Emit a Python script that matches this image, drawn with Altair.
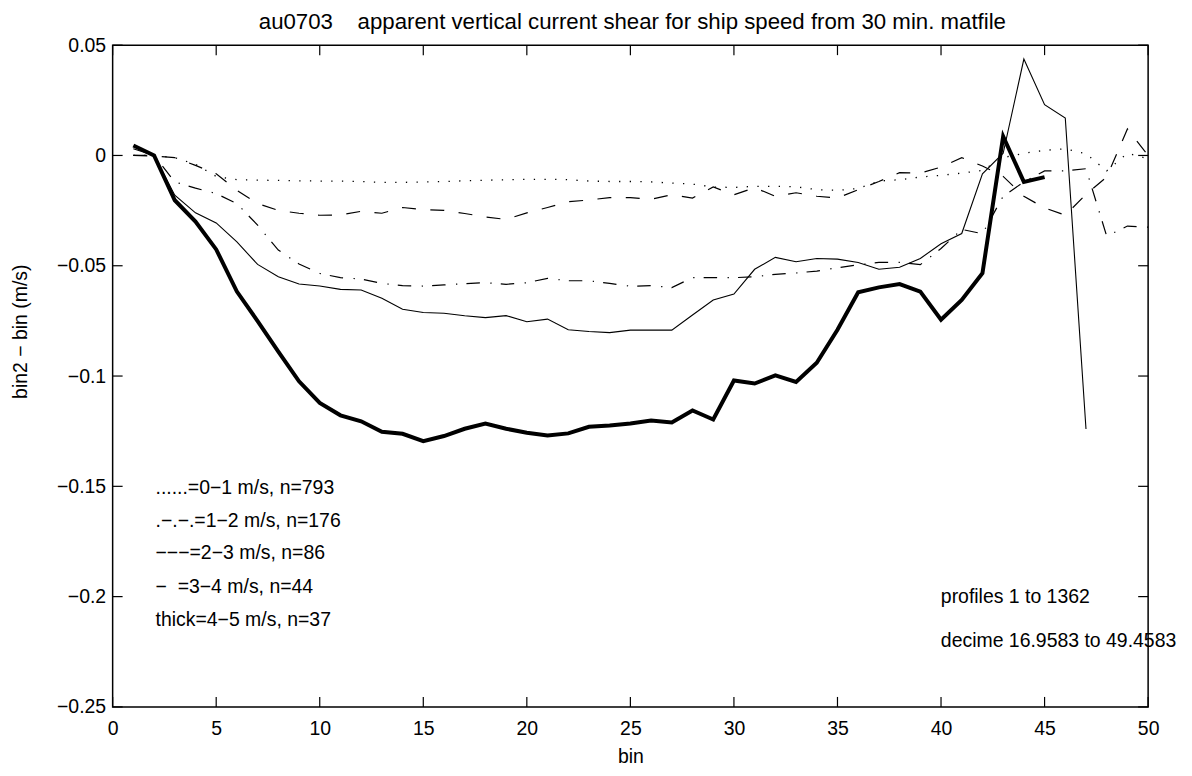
import altair as alt
import pandas as pd

# ---------------- data ----------------
x_ticks = [0, 5, 10, 15, 20, 25, 30, 35, 40, 45, 50]
y_ticks = [0.05, 0.0, -0.05, -0.1, -0.15, -0.2, -0.25]

bins_0_1 = list(range(1, 51))
shear_0_1 = [0.0, 0.0, -0.001, -0.004, -0.0095, -0.011, -0.0112, -0.0113, -0.0115, -0.0116,
             -0.0116, -0.0118, -0.0122, -0.0122, -0.012, -0.0118, -0.0115, -0.0112, -0.011, -0.0108,
             -0.0108, -0.011, -0.0116, -0.0118, -0.0118, -0.012, -0.0125, -0.013, -0.0143, -0.0145,
             -0.014, -0.014, -0.0142, -0.0155, -0.0158, -0.015, -0.0116, -0.011, -0.0098, -0.009,
             -0.008, -0.0068, -0.001, 0.001, 0.0023, 0.003, 0.0008, -0.007, 0.001, -0.0015]

bins_1_2 = list(range(1, 51))
shear_1_2 = [0.0, 0.0, -0.012, -0.0148, -0.0173, -0.0218, -0.0316, -0.0429, -0.0492, -0.0535,
             -0.0554, -0.056, -0.058, -0.059, -0.0592, -0.0587, -0.0581, -0.0577, -0.0584, -0.0577,
             -0.0557, -0.0568, -0.0568, -0.058, -0.0593, -0.059, -0.0599, -0.0554, -0.0554, -0.0554,
             -0.055, -0.0539, -0.0533, -0.0524, -0.0509, -0.0496, -0.0485, -0.0485, -0.0495, -0.0422,
             -0.0335, -0.0355, -0.0185, -0.012, -0.007, -0.007, -0.006, -0.0366, -0.032, -0.0325]

bins_2_3 = list(range(1, 51))
shear_2_3 = [0.0, -0.0003, -0.001, -0.0045, -0.0083, -0.0158, -0.0218, -0.0249, -0.0262, -0.0271,
             -0.027, -0.0253, -0.0262, -0.0236, -0.0245, -0.0249, -0.0263, -0.0279, -0.029, -0.026,
             -0.0236, -0.021, -0.0202, -0.0191, -0.0191, -0.0199, -0.0178, -0.0193, -0.0143, -0.0178,
             -0.0146, -0.0185, -0.0169, -0.0185, -0.0193, -0.0155, -0.0118, -0.0078, -0.008, -0.0053,
             -0.001, -0.0048, -0.0095, -0.0185, -0.0238, -0.0271, -0.0176, -0.0098, 0.012, 0.0]

bins_3_4 = list(range(1, 48))
shear_3_4 = [0.003, 0.0, -0.018, -0.026, -0.0306, -0.0392, -0.0494, -0.055, -0.0583, -0.0592,
             -0.0607, -0.061, -0.0647, -0.0697, -0.0712, -0.0715, -0.0727, -0.0735, -0.0726, -0.0754,
             -0.0742, -0.079, -0.0798, -0.0803, -0.0792, -0.0792, -0.0792, -0.0723, -0.0655, -0.0628,
             -0.0516, -0.0462, -0.0482, -0.0467, -0.047, -0.0485, -0.0516, -0.0507, -0.0467, -0.04,
             -0.0354, -0.0083, 0.001, 0.0437, 0.023, 0.017, -0.124]

bins_4_5 = list(range(1, 46))
shear_4_5 = [0.0045, 0.0, -0.0203, -0.030, -0.0426, -0.0617, -0.0751, -0.0889, -0.1024, -0.1122,
             -0.1178, -0.1205, -0.1253, -0.1262, -0.1295, -0.1272, -0.1239, -0.1215, -0.1239, -0.1257,
             -0.127, -0.126, -0.123, -0.1224, -0.1215, -0.1202, -0.121, -0.1156, -0.1197, -0.102,
             -0.1034, -0.0997, -0.1027, -0.094, -0.079, -0.062, -0.0598, -0.0583, -0.0617, -0.0745,
             -0.0655, -0.0534, 0.0086, -0.012, -0.0098]

title_text = "au0703\u00a0\u00a0\u00a0\u00a0apparent vertical current shear for ship speed from 30 min. matfile"
legend_lines = [
    "......=0\u22121 m/s, n=793",
    ".\u2212.\u2212.=1\u22122 m/s, n=176",
    "\u2212\u2212\u2212=2\u22123 m/s, n=86",
    "\u00a0\u00a0\u2212\u00a0\u00a0=3\u22124 m/s, n=44",
    "thick=4\u22125 m/s, n=37",
]
info_lines = ["profiles 1 to 1362", "decime 16.9583 to 49.4583"]

# ---------------- layout / style ----------------
W, H = 1039, 664
FONT = "Liberation Sans, Arial, Helvetica, sans-serif"
FS = 19.5

xscale = alt.Scale(domain=[0, 50], nice=False, zero=False)
yscale = alt.Scale(domain=[-0.25, 0.05], nice=False, zero=False)

xaxis = alt.Axis(values=x_ticks, ticks=False, domain=False, grid=False,
                 labelFont=FONT, labelFontSize=FS, labelColor="black", labelPadding=13,
                 labelFlush=False, labelOverlap=False,
                 title="bin", titleFont=FONT, titleFontSize=FS, titleFontWeight="normal",
                 titleColor="black", titleX=W / 2, titleY=56, titleAlign="center",
                 titleBaseline="alphabetic")
yaxis = alt.Axis(values=y_ticks, format=".2~f", ticks=False, domain=False, grid=False,
                 labelFont=FONT, labelFontSize=FS, labelColor="black", labelPadding=7,
                 labelFlush=False, labelOverlap=False,
                 title="bin2 \u2212 bin (m/s)", titleFont=FONT, titleFontSize=FS,
                 titleFontWeight="normal", titleColor="black", titleAngle=270,
                 titleX=-92, titleY=287, titleAlign="center", titleBaseline="middle")

X = alt.X("bin:Q", scale=xscale, axis=xaxis)
Y = alt.Y("val:Q", scale=yscale, axis=yaxis)


def series(bins, vals, **style):
    df = pd.DataFrame({"bin": bins, "val": vals})
    return alt.Chart(df).mark_line(color="black", strokeCap="butt", strokeJoin="miter",
                                   **style).encode(x=X, y=Y)


layers = [
    series(bins_0_1, shear_0_1, strokeWidth=1.3, strokeDash=[1.3, 9.4]),
    series(bins_1_2, shear_1_2, strokeWidth=1.2, strokeDash=[13.5, 10.5, 1.3, 9.2]),
    series(bins_2_3, shear_2_3, strokeWidth=1.2, strokeDash=[14, 14.5]),
    series(bins_3_4, shear_3_4, strokeWidth=1.1),
    series(bins_4_5, shear_4_5, strokeWidth=4),
]

# inward tick marks on all four sides
xt = pd.DataFrame({"bin": x_ticks})
yt = pd.DataFrame({"val": y_ticks})
tick_style = dict(color="black", strokeWidth=1.2)
layers += [
    alt.Chart(xt).mark_rule(**tick_style).encode(x=X, y=alt.value(H), y2=alt.value(H - 10)),
    alt.Chart(xt).mark_rule(**tick_style).encode(x=X, y=alt.value(0), y2=alt.value(10)),
    alt.Chart(yt).mark_rule(**tick_style).encode(y=Y, x=alt.value(0), x2=alt.value(10)),
    alt.Chart(yt).mark_rule(**tick_style).encode(y=Y, x=alt.value(W), x2=alt.value(W - 10)),
]

# texts
def text(s, px, py, size=FS, align="left", baseline="middle"):
    return alt.Chart(pd.DataFrame({"k": [0]})).mark_text(
        text=s, font=FONT, fontSize=size, color="black", align=align, baseline=baseline
    ).encode(x=alt.value(px), y=alt.value(py))

legend_y = [444, 477.5, 509.5, 543.5, 576.5]
for s, py in zip(legend_lines, legend_y):
    layers.append(text(s, 43, py))
for s, py in zip(info_lines, [554, 597.5]):
    layers.append(text(s, 831, py))
layers.append(text(title_text, W / 2 + 2, -16, size=22.3, align="center", baseline="alphabetic"))

chart = alt.layer(*layers).properties(
    width=W, height=H,
    padding={"left": 105, "top": 36, "right": 36, "bottom": 60},
    autosize=alt.AutoSizeParams(type="none"),
    background="white",
).configure_view(stroke="black", strokeWidth=1.5)

chart.save("out.html", embed_options={"renderer": "svg", "actions": False})
